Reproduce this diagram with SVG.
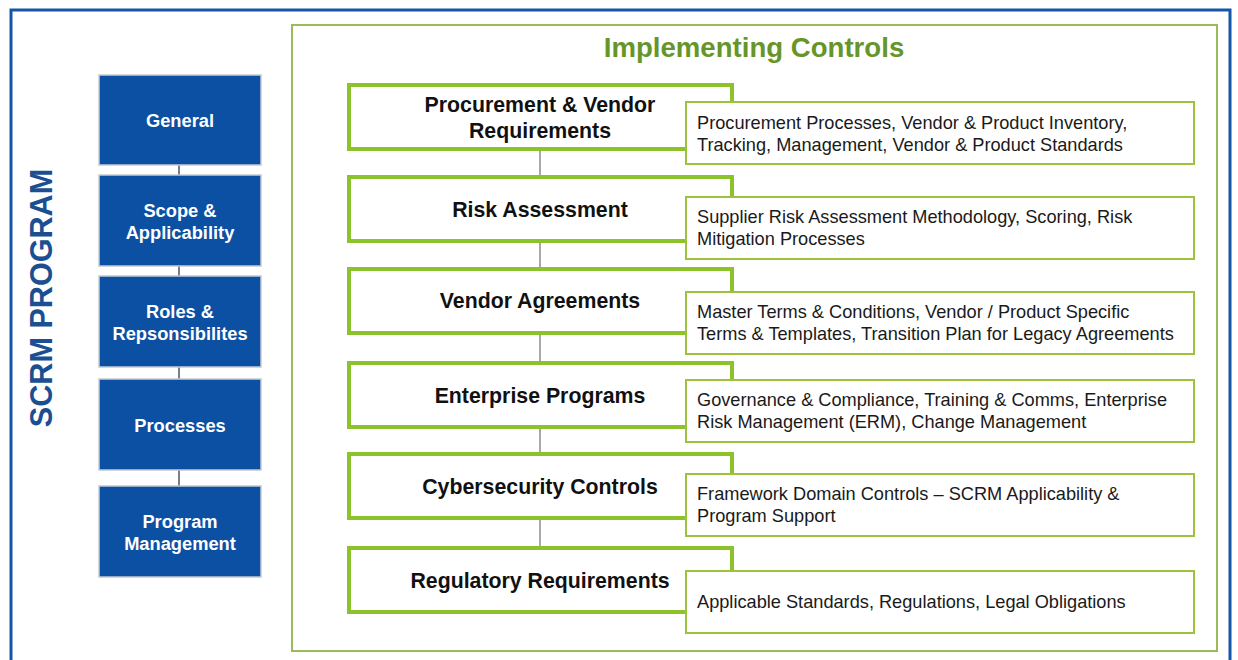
<svg xmlns="http://www.w3.org/2000/svg" width="1238" height="660" viewBox="0 0 1238 660">
<style>
.blue rect{fill:#0c50a3;stroke:#c3cad3;stroke-width:1.5}
.blue text{fill:#ffffff;font-family:"Liberation Sans",Arial,sans-serif;font-weight:bold;font-size:18.3px;text-anchor:middle}
.ttl rect{fill:#ffffff;stroke:#8cc22a;stroke-width:4}
.ttl text{fill:#111111;font-family:"Liberation Sans",Arial,sans-serif;font-weight:bold;font-size:21.3px;text-anchor:middle}
.dsc rect{fill:#ffffff;stroke:#9dc33e;stroke-width:2}
.dsc text{fill:#1a1a1a;font-family:"Liberation Sans",Arial,sans-serif;font-size:18.2px}
.conn line{stroke:#8c8c8c;stroke-width:1.5}
.lconn line{stroke:#4a5564;stroke-width:1.5}
</style>
<rect x="0" y="0" width="1238" height="660" fill="#ffffff"/>
<g id="frame">
<rect x="11" y="10" width="1219" height="700" fill="none" stroke="#1656a8" stroke-width="3"/>
</g>
<g id="program-label">
<text x="0" y="0" transform="translate(52,298) rotate(-90)" font-family="'Liberation Sans',Arial,sans-serif" font-weight="bold" font-size="30.6" fill="#1b4f91" text-anchor="middle">SCRM PROGRAM</text>
</g>
<g id="controls-panel">
<rect x="292" y="25" width="925" height="626" fill="#ffffff" stroke="#9bbb59" stroke-width="2"/>
<text x="754" y="57" font-family="'Liberation Sans',Arial,sans-serif" font-weight="bold" font-size="27.6" fill="#66962a" text-anchor="middle">Implementing Controls</text>
</g>
<g id="connectors">
<g class="lconn">
<line x1="179" y1="165" x2="179" y2="175"/>
<line x1="179" y1="266" x2="179" y2="276"/>
<line x1="179" y1="367" x2="179" y2="379"/>
<line x1="179" y1="470" x2="179" y2="486"/>
</g>
<g class="conn">
<line x1="540" y1="149" x2="540" y2="177"/>
<line x1="540" y1="241" x2="540" y2="269"/>
<line x1="540" y1="333" x2="540" y2="363"/>
<line x1="540" y1="427" x2="540" y2="454"/>
<line x1="540" y1="518" x2="540" y2="548"/>
</g>
</g>
<g id="general" class="blue"><rect x="99" y="75" width="162" height="90"/><text x="180" y="127">General</text></g>
<g id="scope" class="blue"><rect x="99" y="175" width="162" height="91"/><text x="180" y="217">Scope &amp;</text><text x="180" y="239">Applicability</text></g>
<g id="roles" class="blue"><rect x="99" y="276" width="162" height="91"/><text x="180" y="318">Roles &amp;</text><text x="180" y="340">Repsonsibilites</text></g>
<g id="processes" class="blue"><rect x="99" y="379" width="162" height="91"/><text x="180" y="432">Processes</text></g>
<g id="program-management" class="blue"><rect x="99" y="486" width="162" height="91"/><text x="180" y="528">Program</text><text x="180" y="550">Management</text></g>

<g id="procurement" class="ttl"><rect x="349" y="85" width="383" height="64"/><text x="540" y="112">Procurement &amp; Vendor</text><text x="540" y="138">Requirements</text></g>
<g id="procurement-detail" class="dsc"><rect x="686" y="102" width="508" height="62"/><text x="697" y="129">Procurement Processes, Vendor &amp; Product Inventory,</text><text x="697" y="151">Tracking, Management, Vendor &amp; Product Standards</text></g>

<g id="risk" class="ttl"><rect x="349" y="177" width="383" height="64"/><text x="540" y="217">Risk Assessment</text></g>
<g id="risk-detail" class="dsc"><rect x="686" y="197" width="508" height="62"/><text x="697" y="223">Supplier Risk Assessment Methodology, Scoring, Risk</text><text x="697" y="245">Mitigation Processes</text></g>

<g id="vendor" class="ttl"><rect x="349" y="269" width="383" height="64"/><text x="540" y="308">Vendor Agreements</text></g>
<g id="vendor-detail" class="dsc"><rect x="686" y="292" width="508" height="62"/><text x="697" y="318">Master Terms &amp; Conditions, Vendor / Product Specific</text><text x="697" y="340">Terms &amp; Templates, Transition Plan for Legacy Agreements</text></g>

<g id="enterprise" class="ttl"><rect x="349" y="363" width="383" height="64"/><text x="540" y="403">Enterprise Programs</text></g>
<g id="enterprise-detail" class="dsc"><rect x="686" y="380" width="508" height="62"/><text x="697" y="406">Governance &amp; Compliance, Training &amp; Comms, Enterprise</text><text x="697" y="428">Risk Management (ERM), Change Management</text></g>

<g id="cyber" class="ttl"><rect x="349" y="454" width="383" height="64"/><text x="540" y="494">Cybersecurity Controls</text></g>
<g id="cyber-detail" class="dsc"><rect x="686" y="474" width="508" height="62"/><text x="697" y="500">Framework Domain Controls – SCRM Applicability &amp;</text><text x="697" y="522">Program Support</text></g>

<g id="regulatory" class="ttl"><rect x="349" y="548" width="383" height="64"/><text x="540" y="588">Regulatory Requirements</text></g>
<g id="regulatory-detail" class="dsc"><rect x="686" y="571" width="508" height="62"/><text x="697" y="608">Applicable Standards, Regulations, Legal Obligations</text></g>
</svg>
